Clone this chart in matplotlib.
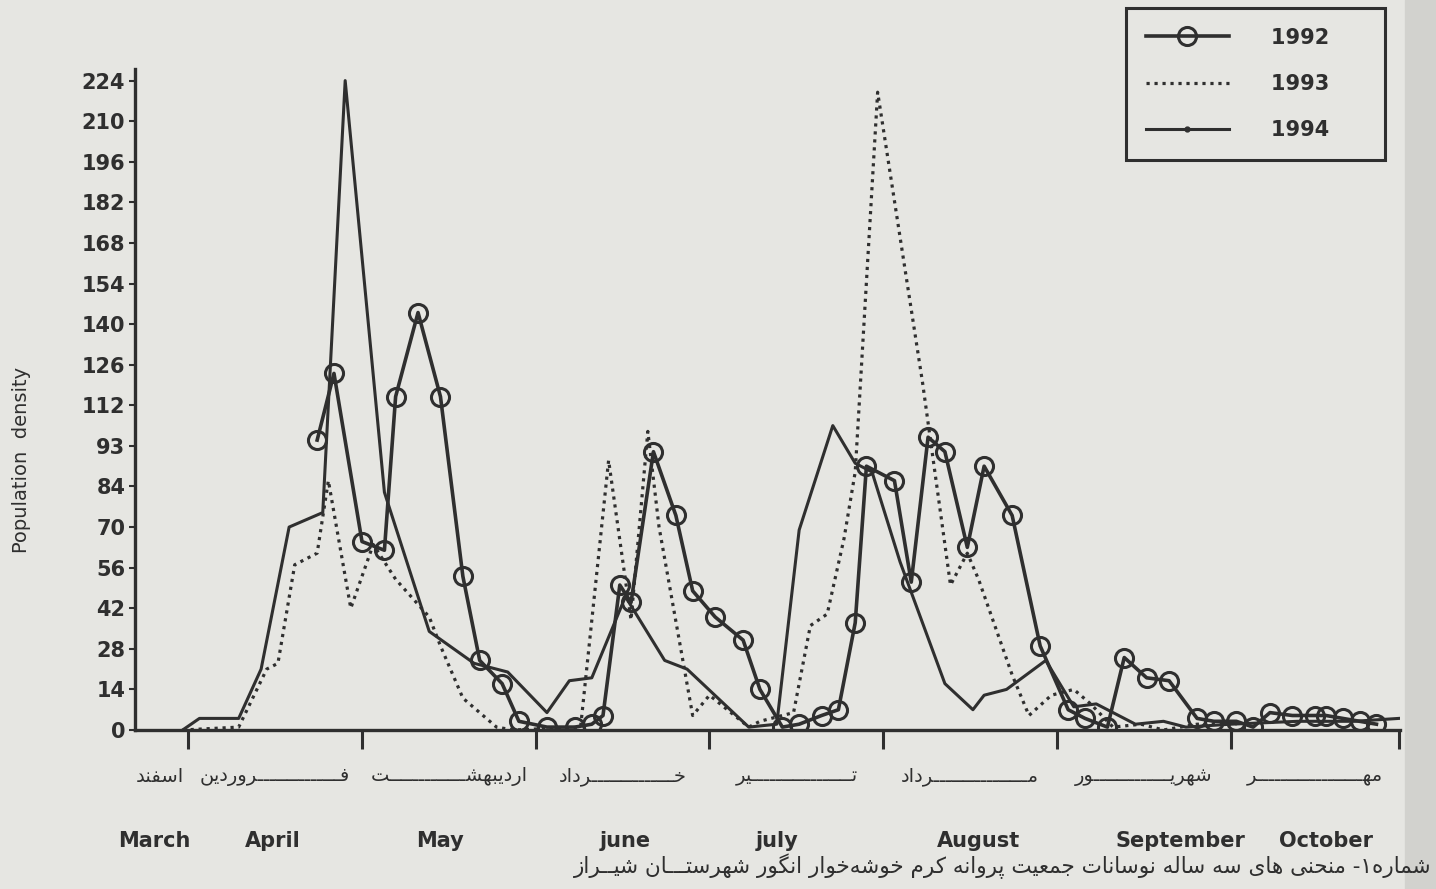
import matplotlib.pyplot as plt
from matplotlib.lines import Line2D
from matplotlib.patches import Rectangle

# sampling dates, days counted from 1 Farvardin (21 March)
days_1992 = [23, 26, 31, 35, 37, 41, 45, 49, 52, 56, 59, 64, 69, 72, 74, 77, 79, 83, 87, 90,
             94, 99, 102, 106, 109, 113, 116, 119, 121, 126, 129, 132, 135, 139, 142, 147, 152,
             157, 160, 164, 167, 171, 175, 180, 183, 187, 190, 193, 197, 201, 203, 206, 209, 212]
vals_1992 = [100, 123, 65, 62, 115, 144, 115, 53, 24, 16, 3, 1, 1, 2, 5, 50, 44, 96, 74, 48,
             39, 31, 14, 1, 2, 5, 7, 37, 91, 86, 51, 101, 96, 63, 91, 74, 29,
             7, 4, 1, 25, 18, 17, 4, 3, 3, 1, 6, 5, 5, 5, 4, 3, 2]

days_1993 = [-1, 9, 14, 16, 19, 23, 25, 29, 33, 37, 43, 45, 49, 55, 58, 70, 75, 79, 82, 84,
             90, 93, 100, 102, 108, 111, 114, 117, 119, 123, 131, 136, 139, 141, 147, 150, 154,
             158, 161, 165, 170, 174, 180, 187]
vals_1993 = [0, 1, 21, 23, 57, 61, 86, 42, 64, 52, 39, 29, 11, 1, 0, 1, 93, 38, 103, 70,
             5, 12, 1, 3, 6, 36, 40, 66, 89, 220, 120, 50, 61, 52, 19, 5, 12,
             14, 9, 1, 2, 0, 2, 2]

days_1994 = [-1, 2, 9, 13, 18, 24, 28, 35, 43, 51, 57, 64, 68, 72, 78, 85, 89, 100, 105, 109,
             115, 119, 122, 127, 135, 140, 142, 146, 153, 158, 162, 169, 174, 178, 186, 198, 208, 216]
vals_1994 = [0, 4, 4, 21, 70, 75, 224, 82, 34, 23, 20, 6, 17, 18, 46, 24, 21, 1, 2, 69,
             105, 92, 89, 58, 16, 7, 12, 14, 24, 8, 9, 2, 3, 1, 2, 3, 3, 4]

years = ['1992', '1993', '1994']

y_ticks = [0, 14, 28, 42, 56, 70, 84, 98, 112, 126, 140, 154, 168, 182, 196, 210, 224]
y_labels = ['0', '14', '28', '42', '56', '70', '84', '93', '112', '126', '140', '154',
            '168', '182', '196', '210', '224']

# Persian month boundaries and names (K = kashida used to stretch the words)
K = '\u0640'
month_bounds = [0, 31, 62, 93, 124, 155, 186, 216]
persian_pos = [-5, 15.5, 46.5, 77.5, 108.5, 139.5, 170.5, 201]
persian_months = ['اسفند', 'ف' + K * 14 + 'روردین', 'اردیبهش' + K * 13 + 'ت',
                  'خ' + K * 14 + 'رداد', 'ت' + K * 17 + 'یر', 'م' + K * 16 + 'رداد',
                  'شهری' + K * 13 + 'ور', 'مه' + K * 18 + 'ر']
english_pos = [-6, 15, 45, 78, 105, 141, 177, 203]
english_months = ['March', 'April', 'May', 'june', 'july', 'August', 'September', 'October']
caption = 'شماره۱- منحنی های سه ساله نوسانات جمعیت پروانه کرم خوشه\u200cخوار انگور شهرستـــان شیــراز'

# --- minimal Persian shaping (matplotlib has no bidi / joining) ---
FORMS = {
    'ا': ('\uFE8D', '\uFE8E', None, None), 'ب': ('\uFE8F', '\uFE90', '\uFE91', '\uFE92'),
    'پ': ('\uFB56', '\uFB57', '\uFB58', '\uFB59'), 'ت': ('\uFE95', '\uFE96', '\uFE97', '\uFE98'),
    'ث': ('\uFE99', '\uFE9A', '\uFE9B', '\uFE9C'), 'ج': ('\uFE9D', '\uFE9E', '\uFE9F', '\uFEA0'),
    'چ': ('\uFB7A', '\uFB7B', '\uFB7C', '\uFB7D'), 'ح': ('\uFEA1', '\uFEA2', '\uFEA3', '\uFEA4'),
    'خ': ('\uFEA5', '\uFEA6', '\uFEA7', '\uFEA8'), 'د': ('\uFEA9', '\uFEAA', None, None),
    'ذ': ('\uFEAB', '\uFEAC', None, None), 'ر': ('\uFEAD', '\uFEAE', None, None),
    'ز': ('\uFEAF', '\uFEB0', None, None), 'ژ': ('\uFB8A', '\uFB8B', None, None),
    'س': ('\uFEB1', '\uFEB2', '\uFEB3', '\uFEB4'), 'ش': ('\uFEB5', '\uFEB6', '\uFEB7', '\uFEB8'),
    'ص': ('\uFEB9', '\uFEBA', '\uFEBB', '\uFEBC'), 'ع': ('\uFEC9', '\uFECA', '\uFECB', '\uFECC'),
    'ف': ('\uFED1', '\uFED2', '\uFED3', '\uFED4'), 'ق': ('\uFED5', '\uFED6', '\uFED7', '\uFED8'),
    'ک': ('\uFB8E', '\uFB8F', '\uFB90', '\uFB91'), 'گ': ('\uFB92', '\uFB93', '\uFB94', '\uFB95'),
    'ل': ('\uFEDD', '\uFEDE', '\uFEDF', '\uFEE0'), 'م': ('\uFEE1', '\uFEE2', '\uFEE3', '\uFEE4'),
    'ن': ('\uFEE5', '\uFEE6', '\uFEE7', '\uFEE8'), 'ه': ('\uFEE9', '\uFEEA', '\uFEEB', '\uFEEC'),
    'و': ('\uFEED', '\uFEEE', None, None), 'ی': ('\uFBFC', '\uFBFD', '\uFBFE', '\uFBFF'),
    K: (K, K, K, K),
}


def shape(text):
    def dual(c):
        return c in FORMS and FORMS[c][2] is not None
    out = []
    for i, c in enumerate(text):
        if c == '\u200c':
            continue
        if c not in FORMS:
            out.append(c)
            continue
        prev = text[i - 1] if i > 0 else ''
        nxt = text[i + 1] if i + 1 < len(text) else ''
        jp = dual(prev)
        jn = dual(c) and nxt in FORMS
        f = FORMS[c]
        out.append(f[3] if jp and jn else f[1] if jp else f[2] if jn else f[0])
    return ''.join(reversed(out))


PAPER = '#e6e6e2'
INK = '#2f2f2f'
plt.rcParams['font.family'] = ['DejaVu Sans']

fig = plt.figure(figsize=(14.36, 8.89), dpi=100, facecolor=PAPER)
fig.patches.append(Rectangle((1405 / 1436, 0), 31 / 1436, 1, transform=fig.transFigure,
                             color='#d2d2ce', zorder=0))
ax = fig.add_axes([135 / 1436, 159 / 889, 1265 / 1436, 661 / 889])
ax.set_facecolor(PAPER)

ax.plot(days_1992, vals_1992, color=INK, lw=2.6, marker='o', ms=13, mfc='none', mew=2.2)
ax.plot(days_1993, vals_1993, color=INK, lw=2.3, ls=(0, (1, 1.5)))
ax.plot(days_1994, vals_1994, color=INK, lw=2.2)

ax.set_xlim(-9.5, 216.2)
ax.set_ylim(0, 228)
for s in ['top', 'right']:
    ax.spines[s].set_visible(False)
for s in ['left', 'bottom']:
    ax.spines[s].set_linewidth(2.4)
    ax.spines[s].set_color(INK)

ax.set_yticks(y_ticks)
ax.set_yticklabels(y_labels, fontsize=15, fontweight='bold', color=INK)
ax.tick_params(axis='y', direction='out', length=4, width=1.5, color=INK, pad=3)
ax.set_xticks(month_bounds)
ax.set_xticklabels([])
ax.tick_params(axis='x', direction='out', length=14, width=2.2, color=INK)

tr = ax.get_xaxis_transform()
for x, name in zip(persian_pos, persian_months):
    ax.text(x, -0.07, shape(name), transform=tr, ha='center', va='center',
            fontsize=14, color=INK)
for x, name in zip(english_pos, english_months):
    ax.text(x, -0.168, name, transform=tr, ha='center', va='center',
            fontsize=15, fontweight='bold', color=INK)

fig.text(22 / 1436, 1 - 460 / 889, 'Population  density', rotation=90, ha='center',
         va='center', fontsize=14, color=INK)
fig.text(1432 / 1436, 1 - 866 / 889, shape(caption), ha='right', va='center',
         fontsize=15.5, color=INK)

handles = [Line2D([], [], color=INK, lw=2.6, marker='o', ms=13, mfc='none', mew=2.2),
           Line2D([], [], color=INK, lw=2.3, ls=(0, (1, 1.5))),
           Line2D([], [], color=INK, lw=2.2, marker='.', ms=7)]
leg = fig.legend(handles, [y + '     ' for y in years], loc='upper right',
                 bbox_to_anchor=(1385 / 1436, 1 - 8 / 889), borderaxespad=0,
                 frameon=True, fancybox=False, edgecolor=INK, facecolor=PAPER,
                 framealpha=1, handlelength=4, labelspacing=1.25, borderpad=0.95,
                 handletextpad=2.0, prop={'size': 15, 'weight': 'bold'})
leg.get_frame().set_linewidth(2.2)
for t in leg.get_texts():
    t.set_color(INK)

fig.savefig('out.png', dpi=100, facecolor=PAPER)
